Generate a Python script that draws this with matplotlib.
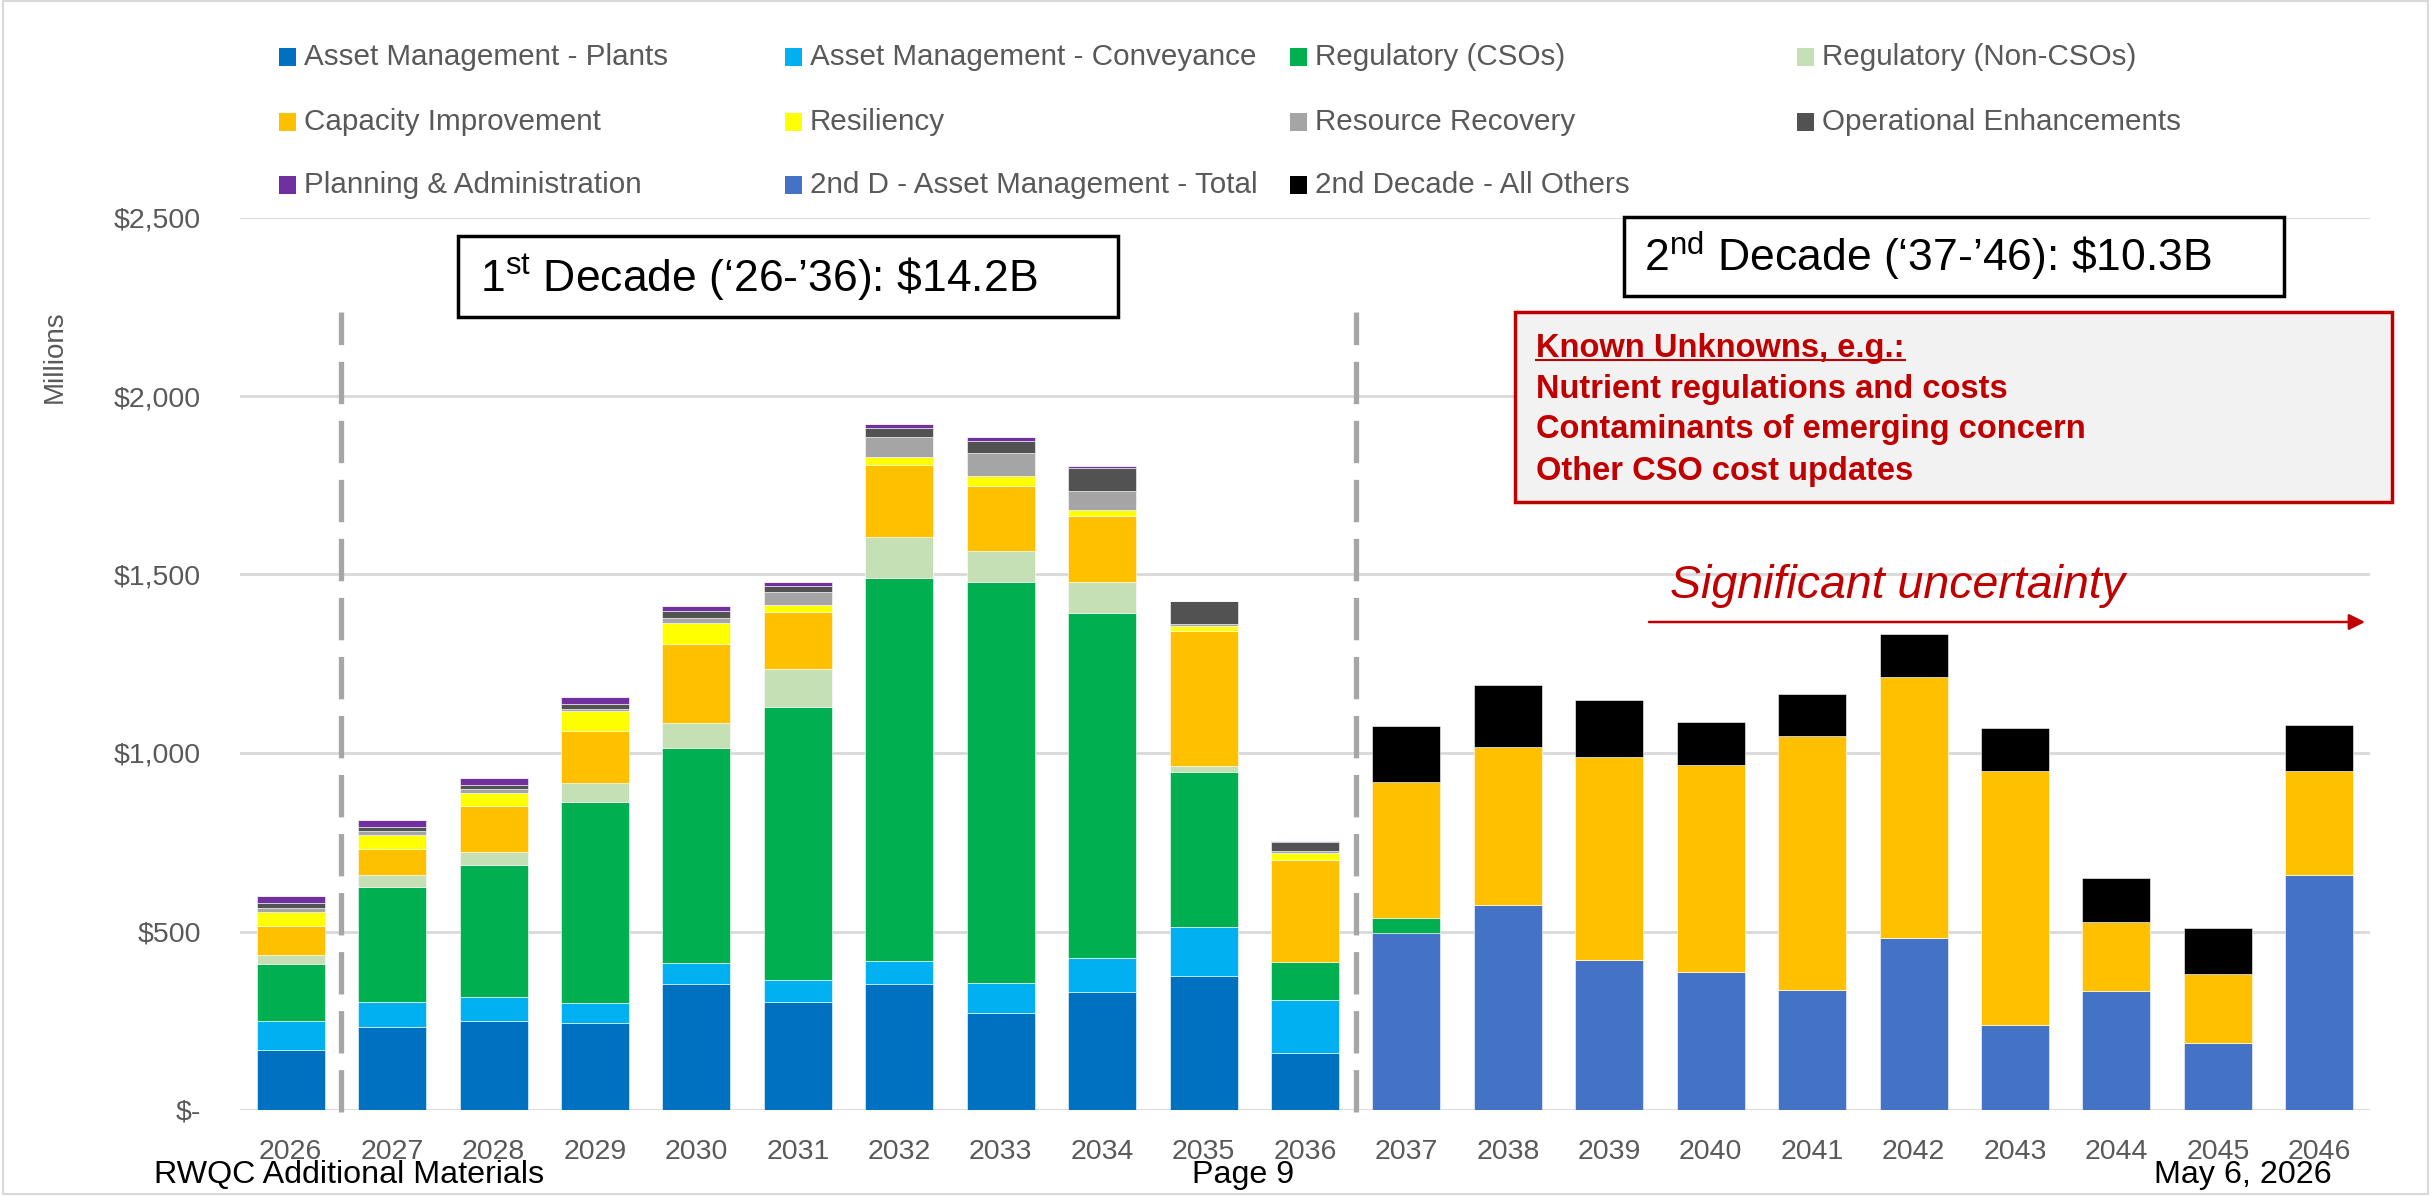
import matplotlib
matplotlib.use('Agg')
import matplotlib.pyplot as plt
from matplotlib.patches import Rectangle
from matplotlib.lines import Line2D
from matplotlib.ticker import FuncFormatter

plt.rcParams['font.family'] = ['Liberation Sans', 'DejaVu Sans']
plt.rcParams['mathtext.fontset'] = 'custom'
plt.rcParams['mathtext.rm'] = 'Liberation Sans'
plt.rcParams['mathtext.it'] = 'Liberation Sans:italic'
plt.rcParams['mathtext.bf'] = 'Liberation Sans:bold'
plt.rcParams['lines.scale_dashes'] = False

# ---- data (millions of $) ----
years = [str(y) for y in range(2026, 2047)]
am_plants    = [169, 233, 250, 243, 352, 303, 352, 271, 331, 376, 160, 0, 0, 0, 0, 0, 0, 0, 0, 0, 0]
am_conv      = [81, 70, 66, 56, 61, 61, 64, 85, 95, 136, 147, 0, 0, 0, 0, 0, 0, 0, 0, 0, 0]
reg_cso      = [160, 323, 370, 563, 601, 765, 1074, 1124, 966, 434, 107, 40, 0, 0, 0, 0, 0, 0, 0, 0, 0]
reg_noncso   = [24, 32, 36, 54, 69, 106, 114, 85, 88, 18, 0, 0, 0, 0, 0, 0, 0, 0, 0, 0, 0]
capacity     = [81, 74, 130, 146, 221, 160, 203, 184, 184, 377, 285, 383, 445, 571, 578, 710, 733, 710, 193, 194, 292]
resiliency   = [41, 37, 37, 55, 60, 20, 21, 26, 16, 16, 22, 0, 0, 0, 0, 0, 0, 0, 0, 0, 0]
res_recovery = [10, 12, 10, 5, 14, 37, 57, 65, 53, 5, 4, 0, 0, 0, 0, 0, 0, 0, 0, 0, 0]
op_enh       = [14, 12, 11, 14, 20, 15, 25, 33, 66, 63, 25, 0, 0, 0, 0, 0, 0, 0, 0, 0, 0]
planning     = [20, 20, 19, 21, 13, 13, 12, 12, 4, 2, 3, 0, 0, 0, 0, 0, 0, 0, 0, 0, 0]
am_total_2nd = [0, 0, 0, 0, 0, 0, 0, 0, 0, 0, 0, 497, 573, 419, 387, 337, 481, 239, 334, 187, 657]
others_2nd   = [0, 0, 0, 0, 0, 0, 0, 0, 0, 0, 0, 155, 172, 158, 123, 118, 118, 121, 122, 130, 130]

series = {
    'Asset Management - Plants': (am_plants, '#0070C0'),
    'Asset Management - Conveyance': (am_conv, '#00B0F0'),
    'Regulatory (CSOs)': (reg_cso, '#00B050'),
    'Regulatory (Non-CSOs)': (reg_noncso, '#C5E0B4'),
    'Capacity Improvement': (capacity, '#FFC000'),
    'Resiliency': (resiliency, '#FFFF00'),
    'Resource Recovery': (res_recovery, '#A5A5A5'),
    'Operational Enhancements': (op_enh, '#525252'),
    'Planning & Administration': (planning, '#7030A0'),
    '2nd D - Asset Management - Total': (am_total_2nd, '#4472C4'),
    '2nd Decade - All Others': (others_2nd, '#000000'),
}
# bottom-to-top stacking
stack_order = ['Asset Management - Plants', 'Asset Management - Conveyance',
               '2nd D - Asset Management - Total', 'Regulatory (CSOs)',
               'Regulatory (Non-CSOs)', 'Capacity Improvement', 'Resiliency',
               'Resource Recovery', 'Operational Enhancements',
               'Planning & Administration', '2nd Decade - All Others']
legend_rows = [['Asset Management - Plants', 'Asset Management - Conveyance',
                'Regulatory (CSOs)', 'Regulatory (Non-CSOs)'],
               ['Capacity Improvement', 'Resiliency', 'Resource Recovery',
                'Operational Enhancements'],
               ['Planning & Administration', '2nd D - Asset Management - Total',
                '2nd Decade - All Others']]

W, H = 2432, 1196
def fx(x): return x / W
def fy(y): return 1 - y / H

GRAY = '#595959'
RED = '#C00000'

fig = plt.figure(figsize=(W / 100, H / 100), dpi=100)
ax = fig.add_axes([fx(240), fy(1110), (2370 - 240) / W, (1110 - 217.5) / H])

x = list(range(len(years)))
bottom = [0] * len(years)
for name in stack_order:
    vals, col = series[name]
    ax.bar(x, vals, width=0.67, bottom=bottom, color=col,
           edgecolor='white', linewidth=0.4, zorder=2)
    bottom = [b + v for b, v in zip(bottom, vals)]

ax.set_xlim(-0.5, len(years) - 0.5)
ax.set_ylim(0, 2500)
ax.set_yticks(range(0, 2501, 500))
ax.yaxis.set_major_formatter(FuncFormatter(lambda v, p: '$-' if v == 0 else f'${int(v):,}'))
ax.set_xticks(x)
ax.set_xticklabels(years)
ax.tick_params(axis='both', length=0, labelsize=20.5, labelcolor=GRAY)
ax.tick_params(axis='y', pad=28)
ax.tick_params(axis='x', pad=21)
ax.grid(axis='y', color='#D9D9D9', linewidth=2)
ax.set_axisbelow(True)
for s in ax.spines.values():
    s.set_visible(False)

# decade dividers
for xd in (0.5, 10.5):
    ax.plot([xd, xd], [-6, 2235], color='#A6A6A6', lw=3.8,
            dashes=(30.5, 12), clip_on=False, zorder=3)

fig.text(fx(55), fy(357), 'Millions', rotation=90, ha='center', va='center',
         fontsize=20, color=GRAY)

# legend (4 evenly spaced columns)
col_x = [279, 785, 1290, 1797]
row_y = [57, 122, 185]
for r, row in enumerate(legend_rows):
    for c, name in enumerate(row):
        fig.add_artist(Rectangle((fx(col_x[c]), fy(row_y[r] + 8.5)), 17 / W, 17 / H,
                                 transform=fig.transFigure, color=series[name][1], lw=0))
        fig.text(fx(col_x[c] + 25), fy(row_y[r]), name, fontsize=21.3, color=GRAY,
                 va='center', ha='left')

# decade boxes
fig.add_artist(Rectangle((fx(458), fy(317)), (1118 - 458) / W, (317 - 236) / H,
                         transform=fig.transFigure, facecolor='white',
                         edgecolor='black', lw=2.5, zorder=4))
fig.text(fx(480), fy(292), r'1$^{\mathrm{st}}$ Decade (‘26-’36): \$14.2B',
         fontsize=32, va='baseline', ha='left', zorder=5)
fig.add_artist(Rectangle((fx(1624), fy(296)), (2284 - 1624) / W, (296 - 217) / H,
                         transform=fig.transFigure, facecolor='white',
                         edgecolor='black', lw=2.5, zorder=4))
fig.text(fx(1644), fy(271), r'2$^{\mathrm{nd}}$ Decade (‘37-’46): \$10.3B',
         fontsize=32, va='baseline', ha='left', zorder=5)

# known unknowns box
fig.add_artist(Rectangle((fx(1515), fy(502)), (2392 - 1515) / W, (502 - 312) / H,
                         transform=fig.transFigure, facecolor='#F2F2F2',
                         edgecolor=RED, lw=2.5, zorder=4))
lines = ['Known Unknowns, e.g.:', 'Nutrient regulations and costs',
         'Contaminants of emerging concern', 'Other CSO cost updates']
baselines = [357, 398, 438, 480]
txts = []
for t, b in zip(lines, baselines):
    txts.append(fig.text(fx(1536), fy(b), t, fontsize=23.5, fontweight='bold',
                         color=RED, va='baseline', ha='left', zorder=5))

# uncertainty arrow
fig.text(fx(1670), fy(598), 'Significant uncertainty', fontsize=33.5,
         style='italic', color=RED, va='baseline', ha='left')
ax.annotate('', xy=(fx(2365), fy(622)), xytext=(fx(1649), fy(622)),
            xycoords='figure fraction', textcoords='figure fraction',
            arrowprops=dict(arrowstyle='-|>', color=RED, lw=1.8,
                            mutation_scale=24, shrinkA=0, shrinkB=0))

# footer
fig.text(fx(154), fy(1183), 'RWQC Additional Materials', fontsize=23.2, va='baseline')
fig.text(fx(1192), fy(1183), 'Page 9', fontsize=23.2, va='baseline')
fig.text(fx(2154), fy(1183), 'May 6, 2026', fontsize=23.2, va='baseline')

# outer frame
fig.add_artist(Rectangle((fx(3), fy(1194)), (2428 - 3) / W, (1194 - 1) / H,
                         transform=fig.transFigure, fill=False,
                         edgecolor='#D9D9D9', lw=1.5))

# underline heading
fig.canvas.draw()
bb = txts[0].get_window_extent()
yl = H - 360
fig.add_artist(Line2D([bb.x0 / W, bb.x1 / W], [yl / H, yl / H],
                      transform=fig.transFigure, color=RED, lw=1.5, zorder=6))

fig.savefig('out.png', dpi=100)
